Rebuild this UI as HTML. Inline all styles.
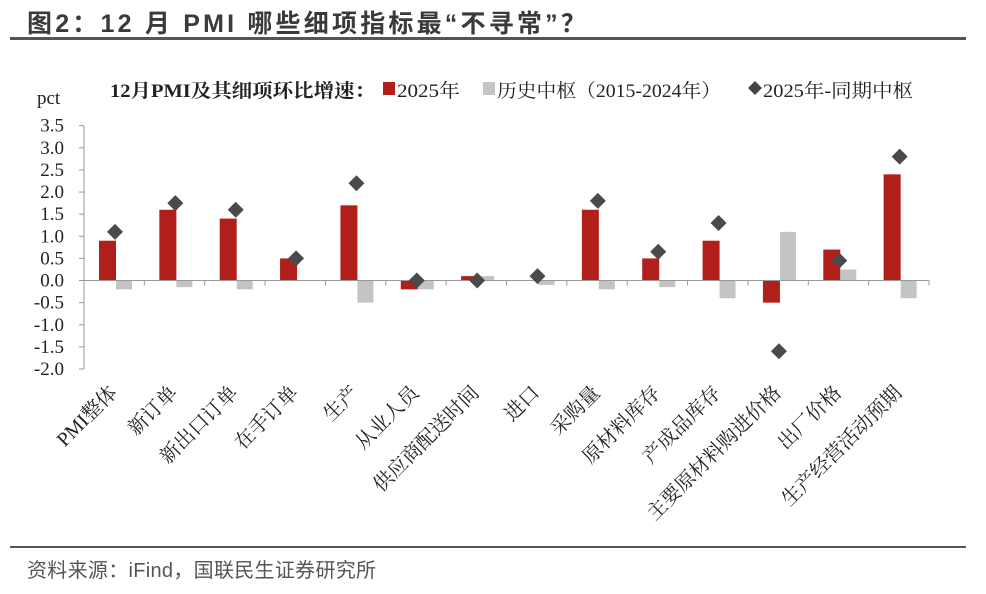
<!DOCTYPE html>
<html><head><meta charset="utf-8"><style>
body{margin:0;background:#fff;width:986px;height:594px;overflow:hidden;position:relative;font-family:"Liberation Sans","Noto Sans CJK SC",sans-serif}
#title{position:absolute;left:27px;top:4px;font-size:25px;font-weight:bold;color:#3a3a3a;letter-spacing:3.2px;white-space:nowrap}
#tline{position:absolute;left:10px;top:37px;width:956px;height:3px;background:#555}
#bline{position:absolute;left:10px;top:546px;width:956px;height:2px;background:#555}
#src{position:absolute;left:27px;top:554px;font-size:20px;color:#555;white-space:nowrap;letter-spacing:0.3px}
svg{position:absolute;left:0;top:0}
</style></head><body>
<div id="title">图2：12 月 PMI 哪些细项指标最“不寻常”？</div>
<div id="tline"></div>
<svg id="chart" width="986" height="594"></svg>
<div id="bline"></div>
<div id="src">资料来源：iFind，国联民生证券研究所</div>
<script>
const categories=["PMI整体","新订单","新出口订单","在手订单","生产","从业人员","供应商配送时间","进口","采购量","原材料库存","产成品库存","主要原材料购进价格","出厂价格","生产经营活动预期"];
const val2025=[0.9,1.6,1.4,0.5,1.7,-0.2,0.1,0,1.6,0.5,0.9,-0.5,0.7,2.4];
const valHist=[-0.2,-0.15,-0.2,0,-0.5,-0.2,0.1,-0.1,-0.2,-0.15,-0.4,1.1,0.25,-0.4];
const valDiff=[1.1,1.75,1.6,0.5,2.2,0,0,0.1,1.8,0.65,1.3,-1.6,0.45,2.8];
const yTicks=[3.5,3.0,2.5,2.0,1.5,1.0,0.5,0.0,-0.5,-1.0,-1.5,-2.0];

const NS="http://www.w3.org/2000/svg";
const svg=document.getElementById('chart');
const X0=84,X1=929,Y0=125.7,Y1=369,YMAX=3.5,YMIN=-2.0;
const bw=(X1-X0)/categories.length;
const y=v=>Y0+(YMAX-v)/(YMAX-YMIN)*(Y1-Y0);
const xs=i=>X0+i*bw;
const serif='"Liberation Serif","Noto Serif CJK SC",serif';
function mk(tag,attrs,parent){const e=document.createElementNS(NS,tag);for(const k in attrs)e.setAttribute(k,attrs[k]);(parent||svg).appendChild(e);return e;}

// legend
const lg=mk('g',{});


let t=mk('text',{x:110,y:97,'font-size':19,'font-weight':'bold','font-family':serif,fill:'#222',textLength:265,lengthAdjust:'spacingAndGlyphs'},lg);t.textContent='12月PMI及其细项环比增速：';

let g1=mk('g',{},lg);
mk('rect',{x:383,y:82,width:12,height:13,fill:'#b01f1a'},g1);
t=mk('text',{x:397,y:97,'font-size':19,'font-family':serif,fill:'#222',textLength:63,lengthAdjust:'spacingAndGlyphs'},g1);t.textContent='2025年';
let g2=mk('g',{},lg);
mk('rect',{x:483,y:82,width:12,height:13,fill:'#c4c4c4'},g2);
t=mk('text',{x:497,y:97,'font-size':19,'font-family':serif,fill:'#222',textLength:224,lengthAdjust:'spacingAndGlyphs'},g2);t.textContent='历史中枢（2015-2024年）';
let g3=mk('g',{},lg);
mk('path',{d:'M755 81 L762 88 L755 95 L748 88 Z',fill:'#444'},g3);
t=mk('text',{x:763,y:97,'font-size':19,'font-family':serif,fill:'#222',textLength:150,lengthAdjust:'spacingAndGlyphs'},g3);t.textContent='2025年-同期中枢';

t=mk('text',{x:37,y:104,'font-size':19,'font-family':serif,fill:'#222'});t.textContent='pct';


// y axis
const ya=mk('g',{});
mk('line',{x1:X0,y1:Y0,x2:X0,y2:Y1,stroke:'#999','stroke-width':1},ya);
yTicks.forEach(v=>{
  mk('line',{x1:X0-5,y1:y(v),x2:X0,y2:y(v),stroke:'#999'},ya);
  const tt=mk('text',{x:X0-20,y:y(v)+6,'font-size':19,'font-family':serif,fill:'#222','text-anchor':'end'},ya);
  tt.textContent=v.toFixed(1);
  
});

// bars
categories.forEach((c,i)=>{
  const x=xs(i);
  let a=val2025[i],r=mk('rect',{x:x+15,y:Math.min(y(a),y(0)),width:17,height:Math.abs(y(a)-y(0)),fill:'#b01f1a'});
  
  a=valHist[i];r=mk('rect',{x:x+32,y:Math.min(y(a),y(0)),width:16,height:Math.abs(y(a)-y(0)),fill:'#c4c4c4'});
  
});
// x axis
const xa=mk('g',{});
mk('line',{x1:X0,y1:y(0),x2:X1,y2:y(0),stroke:'#999'},xa);
for(let i=0;i<=categories.length;i++)mk('line',{x1:xs(i),y1:y(0),x2:xs(i),y2:y(0)+5,stroke:'#999'},xa);
categories.forEach((c,i)=>{
  const cx=xs(i)+bw/2+4,cy=394;
  const tt=mk('text',{x:cx,y:cy,'font-size':20,'font-family':serif,fill:'#222','text-anchor':'end',transform:`rotate(-45 ${cx} ${cy})`},xa);
  tt.textContent=c;
  
});
// diamonds
valDiff.forEach((v,i)=>{
  const cx=xs(i)+31,cy=y(v);
  const d=mk('path',{d:`M${cx} ${cy-8} L${cx+8} ${cy} L${cx} ${cy+8} L${cx-8} ${cy} Z`,fill:'#4a4a4a'});
  
});
</script>
</body></html>
